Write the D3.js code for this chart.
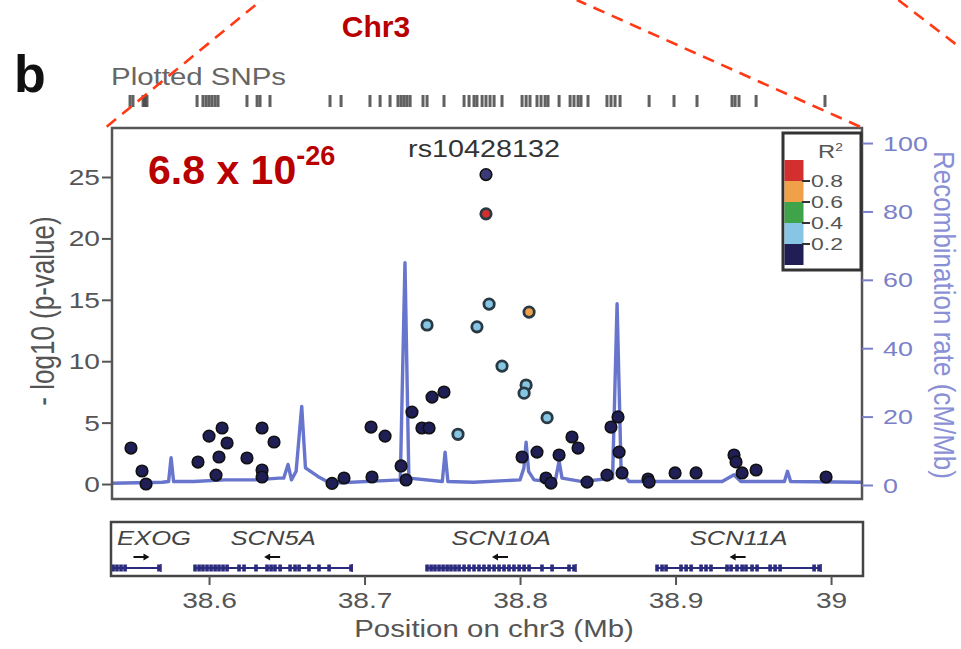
<!DOCTYPE html>
<html>
<head>
<meta charset="utf-8">
<script src="https://cdn.jsdelivr.net/npm/d3@7"></script>
<style>
  body { margin: 0; background: #fff; }
  text { font-family: "Liberation Sans", Arial, sans-serif; }
</style>
</head>
<body>
<svg id="chart" width="961" height="649"></svg>
<script>
// ---- data ----
// SNPs: position (Mb), -log10 p, r2 with the index SNP
var indexSnp = { pos: 38.7781, logp: 25.2, name: "rs10428132" };
var snpPos = [38.7781, 38.7801, 38.8058, 38.7402, 38.7723, 38.7884, 38.8039, 38.8026, 38.8174, 38.7601,
  38.5498, 38.5569, 38.5595, 38.5929, 38.6000, 38.6084, 38.6116, 38.6064, 38.6045, 38.6244,
  38.6341, 38.6418, 38.6341, 38.6341, 38.6791, 38.6868, 38.7048, 38.7042, 38.7132, 38.7235,
  38.7267, 38.7305, 38.7369, 38.7415, 38.7434, 38.7511, 38.8013, 38.8109, 38.8167, 38.8199,
  38.8251, 38.8334, 38.8373, 38.8431, 38.8559, 38.8585, 38.8630, 38.8637, 38.8656, 38.8823,
  38.8830, 38.8997, 38.9132, 38.9376, 38.9389, 38.9428, 38.9518, 38.9968];
var snpLogP = [22.0, 14.65, 14.0, 12.95, 12.8, 9.6, 8.06, 7.4, 5.4, 4.05,
  2.93, 1.06, 0.0, 1.79, 3.9, 4.56, 3.34, 2.2, 0.73, 2.12,
  4.56, 3.42, 1.14, 0.57, 0.05, 0.49, 0.57, 4.64, 3.9, 1.47,
  0.33, 5.86, 4.56, 4.56, 7.08, 7.49, 2.2, 2.6, 0.49, 0.08,
  2.36, 3.83, 2.93, 0.16, 0.73, 4.64, 5.46, 2.6, 0.9, 0.41,
  0.16, 0.9, 0.9, 2.36, 1.8, 0.9, 1.14, 0.57];
var snpR2 = [0.9, 0.3, 0.7, 0.3, 0.3, 0.3, 0.3, 0.3, 0.3, 0.3,
  0.1, 0.1, 0.1, 0.1, 0.1, 0.1, 0.1, 0.1, 0.1, 0.1,
  0.1, 0.1, 0.1, 0.1, 0.1, 0.1, 0.1, 0.1, 0.1, 0.1,
  0.1, 0.1, 0.1, 0.1, 0.1, 0.1, 0.1, 0.1, 0.1, 0.1,
  0.1, 0.1, 0.1, 0.1, 0.1, 0.1, 0.1, 0.1, 0.1, 0.1,
  0.1, 0.1, 0.1, 0.1, 0.1, 0.1, 0.1, 0.1];

// all plotted SNP positions for the rug
var rugPos = [38.5492, 38.5511, 38.5576, 38.5588, 38.5601, 38.5923, 38.5961, 38.5981, 38.6000, 38.6019,
  38.6039, 38.6058, 38.6244, 38.6309, 38.6328, 38.6392, 38.6778, 38.6849, 38.7035, 38.7100,
  38.7164, 38.7215, 38.7235, 38.7254, 38.7273, 38.7293, 38.7376, 38.7402, 38.7511, 38.7640,
  38.7672, 38.7704, 38.7723, 38.7756, 38.7781, 38.7807, 38.7833, 38.7884, 38.8013, 38.8039,
  38.8064, 38.8109, 38.8135, 38.8161, 38.8180, 38.8251, 38.8322, 38.8347, 38.8373, 38.8392,
  38.8437, 38.8559, 38.8585, 38.8611, 38.8643, 38.8830, 38.8990, 38.9138, 38.9363, 38.9383,
  38.9408, 38.9518, 38.9961];

// recombination rate (cM/Mb)
var recombPos = [38.5376, 38.5700, 38.5740, 38.5756, 38.5772, 38.5900, 38.6100, 38.6300, 38.6450, 38.6480,
  38.6508, 38.6530, 38.6560, 38.6596, 38.6620, 38.6700, 38.6780, 38.7230, 38.7260, 38.7285,
  38.7500, 38.7518, 38.7536, 38.7700, 38.8000, 38.8025, 38.8039, 38.8055, 38.8090, 38.8180,
  38.8230, 38.8251, 38.8270, 38.8400, 38.8595, 38.8624, 38.8650, 38.8700, 38.9300, 38.9376,
  38.9420, 38.9700, 38.9720, 38.9740, 39.0199];
var recombRate = [0.5, 0.8, 1, 8, 1, 1, 1.5, 1.5, 2, 2,
  6, 1.5, 4, 23, 5, 2.5, 0.5, 1.5, 65, 2,
  1, 9.6, 1, 0.8, 1.5, 5, 12.5, 4, 1.5, 1,
  2, 7, 2, 1, 2, 53, 4, 1, 1, 3,
  1, 1, 4, 1, 0.8];

// genes
var geneNames = ["EXOG", "SCN5A", "SCN10A", "SCN11A"];
var geneStart = [38.5350, 38.5904, 38.7395, 38.8875];
var geneEnd = [38.5691, 38.6920, 38.8360, 38.9936];
var geneStrand = [1, -1, -1, -1];
var geneExons = [
  [38.5383, 38.5408, 38.5434, 38.5460, 38.5678],
  [38.5910, 38.5936, 38.5961, 38.5987, 38.6013, 38.6039, 38.6064, 38.6090, 38.6116, 38.6193,
   38.6225, 38.6302, 38.6373, 38.6399, 38.6424, 38.6457, 38.6521, 38.6553, 38.6579, 38.6643,
   38.6707, 38.6772, 38.6913],
  [38.7402, 38.7428, 38.7453, 38.7479, 38.7505, 38.7531, 38.7556, 38.7582, 38.7608, 38.7640,
   38.7672, 38.7704, 38.7736, 38.7768, 38.7801, 38.7833, 38.7865, 38.7897, 38.7929, 38.7961,
   38.7994, 38.8026, 38.8058, 38.8141, 38.8206, 38.8315, 38.8347],
  [38.8881, 38.8913, 38.8939, 38.9035, 38.9068, 38.9100, 38.9164, 38.9196, 38.9228, 38.9331,
   38.9357, 38.9395, 38.9428, 38.9453, 38.9492, 38.9524, 38.9608, 38.9640, 38.9672, 38.9891,
   38.9923]
];

// ticks and legend
var xTicks = [38.6, 38.7, 38.8, 38.9, 39];
var yTicks = [0, 5, 10, 15, 20, 25];
var recombTicks = [0, 20, 40, 60, 80, 100];
var r2Breaks = [1, 0.8, 0.6, 0.4, 0.2, 0];
var r2Colors = ["#d42f2f", "#f0a048", "#3fa34a", "#86c6e4", "#1f1f56"];
var r2Labels = ["0.8", "0.6", "0.4", "0.2"];

// ---- layout ----
var svg = d3.select("#chart");
var plot = { left: 112, right: 862, top: 128, bottom: 499 };
var genes = { top: 522, bottom: 576 };
var SX = 1.28; // the source figure is stretched sideways

var x = d3.scaleLinear().domain([38.5376, 39.0199]).range([plot.left, plot.right]);
var y = d3.scaleLinear().domain([-1.22, 28.99]).range([plot.bottom, plot.top]);
var yR = d3.scaleLinear().domain([-4.1, 104.4]).range([plot.bottom, plot.top]);

function label(g, px, py, str, o) {
  o = o || {};
  return g.append("text")
    .attr("transform", `translate(${px},${py}) scale(${o.sx || SX},1)`)
    .attr("text-anchor", o.anchor || "start")
    .style("font-size", (o.size || 21) + "px")
    .style("font-style", o.italic ? "italic" : null)
    .style("font-weight", o.bold ? "bold" : null)
    .attr("fill", o.color || "#555")
    .text(str);
}

function r2Color(r) {
  for (var i = 0; i < r2Colors.length; i++) {
    if (r > r2Breaks[i + 1]) return r2Colors[i];
  }
  return r2Colors[r2Colors.length - 1];
}

// panel letter, chromosome
svg.append("text").attr("x", 14).attr("y", 92)
  .style("font-size", "52px").style("font-weight", "bold").attr("fill", "#111").text("b");
svg.append("text").attr("x", 376).attr("y", 37).attr("text-anchor", "middle")
  .style("font-size", "30px").style("font-weight", "bold").attr("fill", "#b80000").text("Chr3");

// rug
label(svg, plot.left - 1, 85, "Plotted SNPs", { size: 23, color: "#666" });
svg.append("g").selectAll("line").data(rugPos).enter().append("line")
  .attr("x1", d => x(d)).attr("x2", d => x(d))
  .attr("y1", 95).attr("y2", 107)
  .attr("stroke", "#3a3a3a").attr("stroke-width", 3).attr("opacity", 0.8);

// clip
svg.append("clipPath").attr("id", "clip").append("rect")
  .attr("x", plot.left).attr("y", plot.top)
  .attr("width", plot.right - plot.left).attr("height", plot.bottom - plot.top);

// recombination line
var line = d3.line().x((d, i) => x(recombPos[i])).y(d => yR(d));
svg.append("path").datum(recombRate)
  .attr("clip-path", "url(#clip)")
  .attr("d", line)
  .attr("fill", "none").attr("stroke", "#5866c8")
  .attr("stroke-width", 3.4).attr("stroke-linejoin", "round").attr("opacity", 0.9);

// points
var pts = svg.append("g").attr("clip-path", "url(#clip)");
pts.selectAll("circle.snp").data(snpPos).enter().append("circle")
  .attr("class", "snp")
  .attr("cx", d => x(d))
  .attr("cy", (d, i) => y(snpLogP[i]))
  .attr("r", (d, i) => snpR2[i] > 0.2 ? 5.2 : 5.8)
  .attr("fill", (d, i) => r2Color(snpR2[i]))
  .attr("stroke", (d, i) => snpR2[i] > 0.2 ? "#2a3a44" : "#111")
  .attr("stroke-width", (d, i) => snpR2[i] > 0.2 ? 2.8 : 1.6);
pts.append("circle")
  .attr("cx", x(indexSnp.pos)).attr("cy", y(indexSnp.logp)).attr("r", 5.8)
  .attr("fill", "#3a3a78").attr("stroke", "#111").attr("stroke-width", 1.6);
label(svg, x(indexSnp.pos) - 2, 157, indexSnp.name, { size: 23, anchor: "middle", color: "#333", sx: 1.25 });

// frame
svg.append("rect")
  .attr("x", plot.left).attr("y", plot.top)
  .attr("width", plot.right - plot.left).attr("height", plot.bottom - plot.top)
  .attr("fill", "none").attr("stroke", "#555").attr("stroke-width", 2.5);

// left axis
var gL = svg.append("g").attr("transform", `translate(${plot.left},0)`)
  .call(d3.axisLeft(y).tickValues(yTicks).tickSize(10).tickFormat(d3.format("d")));
gL.select(".domain").remove();
gL.selectAll("line").attr("stroke", "#555").attr("stroke-width", 2);
gL.selectAll("text").attr("x", 0).attr("dy", "0.34em")
  .attr("transform", `translate(-12,0) scale(${SX},1)`)
  .style("font-size", "22px").attr("fill", "#555");

// right axis
var gR = svg.append("g").attr("transform", `translate(${plot.right},0)`)
  .call(d3.axisRight(yR).tickValues(recombTicks).tickSize(11));
gR.select(".domain").remove();
gR.selectAll("line").attr("stroke", "#7a80c8").attr("stroke-width", 2);
gR.selectAll("text").attr("x", 0).attr("dy", "0.34em")
  .attr("transform", `translate(21,0) scale(${SX},1)`)
  .style("font-size", "21px").attr("fill", "#7a80c8");

// axis titles
svg.append("text")
  .attr("transform", "translate(54,311) rotate(-90) scale(1,1.28)")
  .attr("text-anchor", "middle").style("font-size", "26px").attr("fill", "#555")
  .text("- log10 (p-value)");
svg.append("text")
  .attr("transform", "translate(934,315) rotate(90) scale(1,1.12)")
  .attr("text-anchor", "middle").style("font-size", "26px").attr("fill", "#8a90d6")
  .text("Recombination rate (cM/Mb)");

// legend
var leg = { left: 783, right: 861, top: 133, bottom: 270, barTop: 160, barW: 19 };
var legY = d3.scaleLinear().domain([1, 0]).range([leg.barTop, leg.bottom - 5]);
svg.append("rect").attr("x", leg.left).attr("y", leg.top)
  .attr("width", leg.right - leg.left).attr("height", leg.bottom - leg.top)
  .attr("fill", "#fff").attr("stroke", "#333").attr("stroke-width", 3);
svg.append("g").selectAll("rect").data(r2Colors).enter().append("rect")
  .attr("x", leg.left + 1.5).attr("width", leg.barW)
  .attr("y", (d, i) => legY(r2Breaks[i]))
  .attr("height", (d, i) => legY(r2Breaks[i + 1]) - legY(r2Breaks[i]))
  .attr("fill", d => d);
r2Labels.forEach(function (t, i) {
  var yy = legY(r2Breaks[i + 1]);
  svg.append("line").attr("x1", leg.left + leg.barW).attr("x2", leg.left + leg.barW + 8)
    .attr("y1", yy).attr("y2", yy).attr("stroke", "#333").attr("stroke-width", 2);
  label(svg, leg.left + leg.barW + 9, yy + 6, t, { size: 17, sx: 1.35 });
});
var r2t = label(svg, 818, 158, "R", { size: 19, sx: 1.25 });
r2t.append("tspan").attr("dy", -7).style("font-size", "11px").text("2");

// big annotation
var ann = svg.append("text").attr("x", 148).attr("y", 184)
  .attr("fill", "#b80000").style("font-weight", "bold");
ann.append("tspan").style("font-size", "41px").text("6.8 x 10");
ann.append("tspan").attr("dy", -19).style("font-size", "27px").text("-26");

// gene track
svg.append("clipPath").attr("id", "gclip").append("rect")
  .attr("x", plot.left).attr("y", genes.top)
  .attr("width", plot.right - plot.left).attr("height", genes.bottom - genes.top);
var gg = svg.append("g").attr("clip-path", "url(#gclip)");
var geneY = 568;
geneNames.forEach(function (name, i) {
  gg.append("line").attr("x1", x(geneStart[i])).attr("x2", x(geneEnd[i]))
    .attr("y1", geneY).attr("y2", geneY).attr("stroke", "#2a2a7e").attr("stroke-width", 2);
  gg.append("g").selectAll("rect").data(geneExons[i]).enter().append("rect")
    .attr("x", d => x(d) - 1.8).attr("width", 3.6)
    .attr("y", geneY - 3.5).attr("height", 7).attr("fill", "#2a2a7e");
  gg.append("line").attr("x1", x(geneEnd[i])).attr("x2", x(geneEnd[i]))
    .attr("y1", geneY - 4).attr("y2", geneY + 4).attr("stroke", "#2a2a7e").attr("stroke-width", 1.5);
  var cx = x((Math.max(geneStart[i], x.domain()[0]) + geneEnd[i]) / 2) + (i === 0 ? 4 : 0);
  var dir = geneStrand[i];
  gg.append("line").attr("x1", cx - 7 * dir).attr("x2", cx + 7 * dir)
    .attr("y1", 557).attr("y2", 557).attr("stroke", "#111").attr("stroke-width", 2);
  gg.append("path")
    .attr("d", `M${cx + 9 * dir},557 L${cx + 3 * dir},553.5 L${cx + 3 * dir},560.5 Z`)
    .attr("fill", "#111");
  var lx = (x(geneStart[i]) + x(geneEnd[i])) / 2;
  if (i === 0) label(svg, plot.left + 5, 545, name, { size: 20, italic: true, color: "#444" });
  else label(svg, lx, 545, name, { size: 20, italic: true, color: "#444", anchor: "middle" });
});
svg.append("rect").attr("x", plot.left - 1).attr("y", genes.top)
  .attr("width", plot.right - plot.left + 2).attr("height", genes.bottom - genes.top)
  .attr("fill", "none").attr("stroke", "#444").attr("stroke-width", 2.5);

// x axis
var gX = svg.append("g").attr("transform", `translate(0,${genes.bottom})`)
  .call(d3.axisBottom(x).tickValues(xTicks).tickSize(9).tickFormat(d => d3.format("")(d)));
gX.select(".domain").remove();
gX.selectAll("line").attr("stroke", "#555").attr("stroke-width", 2);
gX.selectAll("text").attr("y", 0).attr("dy", 0)
  .attr("transform", `translate(0,32) scale(${SX},1)`)
  .style("font-size", "22px").attr("fill", "#555");
label(svg, 494, 637, "Position on chr3 (Mb)", { size: 23, anchor: "middle" });

// red dashed zoom lines
var dash = [[106.7, 126.7, 261.6, 0], [860, 126.7, 576.7, 0], [898.3, 0, 975, 59]];
svg.append("g").selectAll("line").data(dash).enter().append("line")
  .attr("x1", d => d[0]).attr("y1", d => d[1]).attr("x2", d => d[2]).attr("y2", d => d[3])
  .attr("stroke", "#ff3a14").attr("stroke-width", 2.6).attr("stroke-dasharray", "12,8");
</script>
</body>
</html>
